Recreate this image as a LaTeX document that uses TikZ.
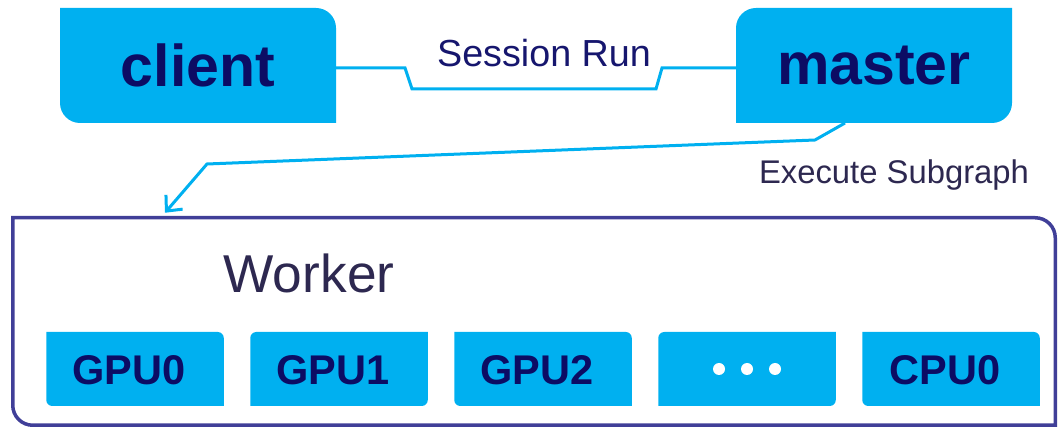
\documentclass[tikz,border=0pt]{standalone}
\usepackage{fontspec}
\setmainfont{Liberation Sans}
\usetikzlibrary{calc,arrows.meta,backgrounds}

\definecolor{boxblue}{HTML}{00B0F0}
\definecolor{navy}{HTML}{0C0C64}
\definecolor{linknavy}{HTML}{16166E}
\definecolor{slate}{HTML}{2D2850}
\definecolor{frame}{HTML}{403F98}

% Box outlines with two opposite rounded corners.
% #1 node name, #2 corner radius, #3 path options
\newcommand{\roundNESW}[3]{%
  \path[#3] (#1.north west) -- ($(#1.north east)+(-#2,0pt)$)
    arc[start angle=90,end angle=0,radius=#2] -- (#1.south east)
    -- ($(#1.south west)+(#2,0pt)$)
    arc[start angle=270,end angle=180,radius=#2] -- cycle;}
\newcommand{\roundNWSE}[3]{%
  \path[#3] (#1.north east) -- ($(#1.south east)+(0pt,#2)$)
    arc[start angle=0,end angle=-90,radius=#2] -- (#1.south west)
    -- ($(#1.north west)+(0pt,-#2)$)
    arc[start angle=180,end angle=90,radius=#2] -- cycle;}

\tikzset{
  topbox/.style={inner sep=0pt, outer sep=0pt, minimum width=276pt,
    minimum height=115pt, text=navy,
    font=\fontsize{59}{59}\selectfont\bfseries},
  unitbox/.style={inner sep=0pt, outer sep=0pt, minimum width=177.5pt,
    minimum height=74pt},
  unitlabel/.style={inner sep=0pt, anchor=base, text=navy,
    font=\fontsize{41.5}{41.5}\selectfont\bfseries},
  caption/.style={inner sep=0pt, anchor=base, text=slate},
  link/.style={draw=boxblue, line width=3pt, line join=miter},
  holder/.style={inner sep=0pt, outer sep=0pt, minimum width=1042.5pt,
    minimum height=207.5pt},
}

\begin{document}
\begin{tikzpicture}[x=1pt,y=1pt]
\useasboundingbox (0,0) rectangle (1062,428);

% top row
\node[topbox] (client) at (198,362.5) {client};
\node[topbox] (master) at (874,362.5) {master};

% worker frame and its devices
\node[holder] (worker) at (534,106.5) {};
\node[caption, font=\fontsize{53.3}{53.3}\selectfont] (wlabel) at (309,135) {Worker};

\node[unitbox] (gpu0) at (135,59) {};
\node[unitbox] (gpu1) at (339,59) {};
\node[unitbox] (gpu2) at (543,59) {};
\node[unitbox] (more) at (747,59) {};
\node[unitbox] (cpu0) at (951,59) {};

\node[unitlabel] (gpu0l) at (129,43.5) {GPU0};
\node[unitlabel] (gpu1l) at (333,43.5) {GPU1};
\node[unitlabel] (gpu2l) at (537,43.5) {GPU2};
\node[unitlabel] (cpu0l) at (945,43.5) {CPU0};

\foreach \dx in {-28,0,28}
  \fill[white] ($(more.center)+(\dx pt,0pt)$) circle[radius=6pt];

\begin{pgfonlayer}{background}
  \roundNESW{client}{20pt}{fill=boxblue}
  \roundNWSE{master}{20pt}{fill=boxblue}
  \roundNESW{worker}{20pt}{draw=frame, line width=3.5pt}
  \roundNESW{gpu0}{6pt}{fill=boxblue}
  \roundNWSE{gpu1}{6pt}{fill=boxblue}
  \roundNESW{gpu2}{6pt}{fill=boxblue}
  \roundNWSE{more}{6pt}{fill=boxblue}
  \roundNESW{cpu0}{6pt}{fill=boxblue}
\end{pgfonlayer}

% client <-> master
\node[caption, text=linknavy, font=\fontsize{37.7}{37.7}\selectfont] (srun) at (544,361.5) {Session Run};
\draw[link] ([yshift=-2.5pt]client.east) -- (405,360) -- (412,339)
  -- (656,339) -- (662,360) -- ([yshift=-2.5pt]master.west);

% master -> worker
\coordinate (tip) at ($(worker.north -| 165,0)+(0pt,5pt)$);
\draw[link, -{Straight Barb[length=12pt,width=22pt]}]
  ([xshift=-29pt]master.south) -- (815,288) -- (207,264) -- (tip);
\node[caption, font=\fontsize{32.8}{32.8}\selectfont] (exec) at (894,244.7) {Execute Subgraph};
\end{tikzpicture}
\end{document}
